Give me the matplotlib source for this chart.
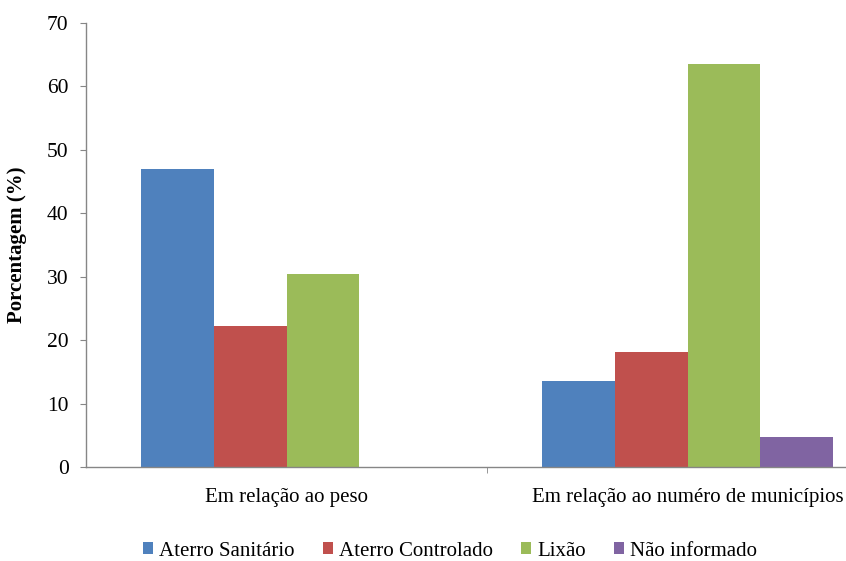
import numpy as np
from matplotlib import pyplot as plt

# Values
categories = ['Em relação ao peso', 'Em relação ao numéro de municípios']
series_names = ['Aterro Sanitário', 'Aterro Controlado', 'Lixão', 'Não informado']
aterro_sanitario = [47.0, 13.6]
aterro_controlado = [22.3, 18.2]
lixao = [30.4, 63.6]
nao_informado = [np.nan, 4.8]
colors = ['#4F81BD', '#C0504D', '#9BBB59', '#8064A2']

plt.rcParams['font.family'] = ['Liberation Serif', 'DejaVu Serif']

fig = plt.figure(figsize=(8.46, 5.61), dpi=100)
# the axes run past the right edge, like the cropped original
ax = fig.add_axes([86 / 846, 94 / 561, 802 / 846, 444 / 561])

all_series = [aterro_sanitario, aterro_controlado, lixao, nao_informado]
n = len(all_series)
gap = 1.5  # Excel-style gap width, in bar widths
width = 1.0 / (n + gap)
x = np.arange(len(categories))
for i, (vals, name) in enumerate(zip(all_series, series_names)):
    offset = (i - (n - 1) / 2) * width
    ax.bar(x + offset, vals, width, color=colors[i], label=name,
           edgecolor='none', zorder=2)

ax.set_xlim(-0.5, len(categories) - 0.5)
ax.set_ylim(0, 70)
ax.set_yticks(range(0, 71, 10))

axis_grey = '#868686'
for side in ['top', 'right']:
    ax.spines[side].set_visible(False)
for side in ['left', 'bottom']:
    ax.spines[side].set_color(axis_grey)
    ax.spines[side].set_linewidth(1.0)

ax.tick_params(axis='y', direction='out', length=4.5, color=axis_grey,
               labelsize=15.5, pad=8)
ax.set_xticks(x)
ax.set_xticklabels(categories)
ax.tick_params(axis='x', which='major', length=0, labelsize=15, pad=15)
ax.set_xticks([0.5], minor=True)
ax.tick_params(axis='x', which='minor', direction='out', length=4.5,
               color=axis_grey)

ax.set_ylabel('Porcentagem (%)', fontsize=15, fontweight='bold')
ax.yaxis.set_label_coords(-0.074, 0.5)

leg = fig.legend(loc='center', bbox_to_anchor=(450 / 846, 1 - 551 / 561),
                 ncol=4, frameon=False, prop={'family': 'Liberation Serif', 'size': 15},
                 handlelength=0.48, handleheight=0.48, handletextpad=0.3,
                 columnspacing=1.35)

plt.savefig('out.png', dpi=100)
